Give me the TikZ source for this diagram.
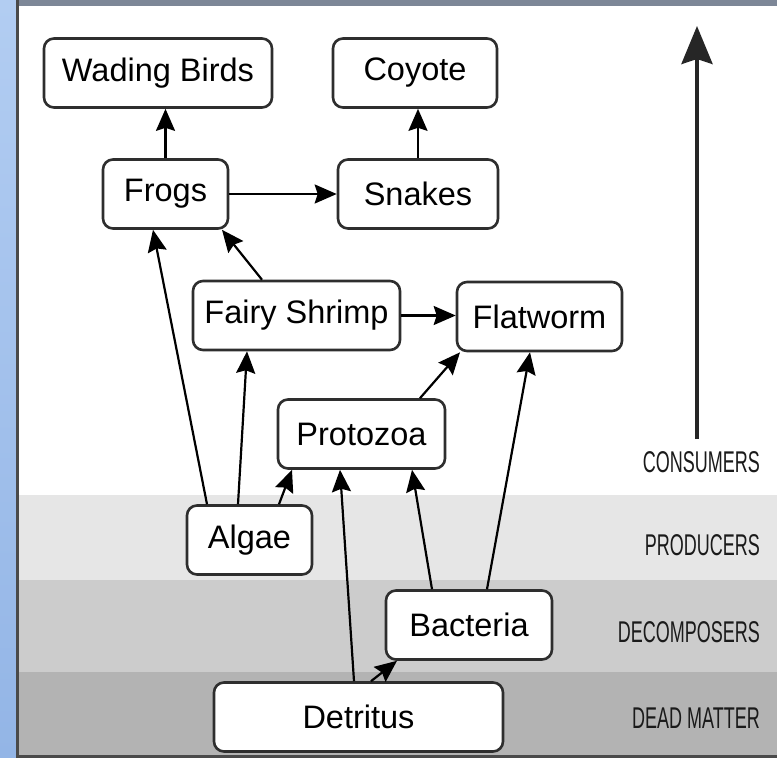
\documentclass[tikz,border=0pt]{standalone}
\usepackage{fontspec}
\setsansfont{Liberation Sans}
\newfontfamily\bandfont[FakeStretch=0.6]{Liberation Sans}
\usepackage{xcolor}
\usetikzlibrary{arrows.meta,calc}
\definecolor{edge}{HTML}{2E2E2E}
\definecolor{frame}{HTML}{4A4A4A}
\definecolor{topbar}{HTML}{7D8797}
\definecolor{skyhi}{HTML}{B2CDF2}
\definecolor{skylo}{HTML}{93B5E6}
\definecolor{prodband}{HTML}{E6E6E6}
\definecolor{decband}{HTML}{CCCCCC}
\definecolor{deadband}{HTML}{B3B3B3}
\definecolor{labtext}{HTML}{1A1A1A}
\tikzset{
  organism/.style={draw=edge,fill=white,rounded corners=10pt,line width=2.6pt,
    minimum height=69pt,inner sep=0pt,font=\sffamily\fontsize{32.5}{36}\selectfont},
  arr/.style={-{Stealth[length=22pt,width=19pt,inset=3pt]},line width=2.2pt,color=black},
  bigarr/.style={-{Stealth[length=38pt,width=31pt,inset=5pt]},line width=4pt,color=black!85},
  bandlabel/.style={anchor=east,text=labtext,inner sep=0pt,font=\bandfont\fontsize{30}{34}\selectfont}
}
\begin{document}
\begin{tikzpicture}[x=1pt,y=-1pt]
  \useasboundingbox (0,0) rectangle (777,758);
  % frame and trophic bands
  \fill[white] (16,0) rectangle (777,758);
  \fill[prodband] (16,495) rectangle (777,580);
  \fill[decband] (16,580) rectangle (777,672);
  \fill[deadband] (16,672) rectangle (777,758);
  \shade[top color=skyhi,bottom color=skylo] (0,0) rectangle (16,758);
  \fill[topbar] (16,0) rectangle (777,6);
  \fill[frame] (16,0) rectangle (19,758);
  \fill[frame] (16,755) rectangle (777,758);

  % organisms
  \node[organism,minimum width=228pt] (wading) at (158,73) {Wading Birds};
  \node[organism,minimum width=164pt] (coyote) at (415,73) {Coyote};
  \node[organism,minimum width=125pt] (frogs) at (165.5,194) {Frogs};
  \node[organism,minimum width=160pt] (snakes) at (418,194) {Snakes};
  \node[organism,minimum width=207pt] (shrimp) at (296.5,315.5) {Fairy Shrimp};
  \node[organism,minimum width=165pt] (flatworm) at (539.5,316.5) {Flatworm};
  \node[organism,minimum width=167pt] (protozoa) at (361.5,434) {Protozoa};
  \node[organism,minimum width=125pt] (algae) at (249.5,540) {Algae};
  \node[organism,minimum width=166pt] (bacteria) at (469,625) {Bacteria};
  \node[organism,minimum width=289pt] (detritus) at (358.5,717) {Detritus};

  % feeding links
  \draw[arr] (frogs.north) -- (frogs.north |- wading.south);
  \draw[arr] (snakes.north) -- (snakes.north |- coyote.south);
  \draw[arr] (frogs.east) -- (frogs.east -| snakes.west);
  \draw[arr] ([xshift=-34.5pt]shrimp.north) -- ([xshift=56.5pt]frogs.south);
  \draw[arr] ([xshift=-42.5pt]algae.north) -- ([xshift=-12.5pt]frogs.south);
  \draw[arr] ([xshift=-11.5pt]algae.north) -- ([xshift=-49.5pt]shrimp.south);
  \draw[arr] ([xshift=29.5pt]algae.north) -- ([xshift=-69.5pt]protozoa.south);
  \draw[arr] (shrimp.east) -- (shrimp.east -| flatworm.west);
  \draw[arr] ([xshift=58.5pt]protozoa.north) -- ([xshift=-79.5pt]flatworm.south);
  \draw[arr] ([xshift=18pt]bacteria.north) -- ([xshift=-9.5pt]flatworm.south);
  \draw[arr] ([xshift=-37pt]bacteria.north) -- ([xshift=50.5pt]protozoa.south);
  \draw[arr] ([xshift=-4.5pt]detritus.north) -- ([xshift=-21.5pt]protozoa.south);
  \draw[arr] ([xshift=12.5pt]detritus.north) -- ([xshift=-72pt]bacteria.south);

  % level labels
  \node[bandlabel] (consumers) at (760,462) {CONSUMERS};
  \node[bandlabel] (producers) at (760,545) {PRODUCERS};
  \node[bandlabel] (decomposers) at (760,632) {DECOMPOSERS};
  \node[bandlabel] (dead) at (760,718) {DEAD MATTER};
  \coordinate (energytop) at (697,26);
  \draw[bigarr] (consumers.north -| energytop) ++(0,-12) -- (energytop);
\end{tikzpicture}
\end{document}
